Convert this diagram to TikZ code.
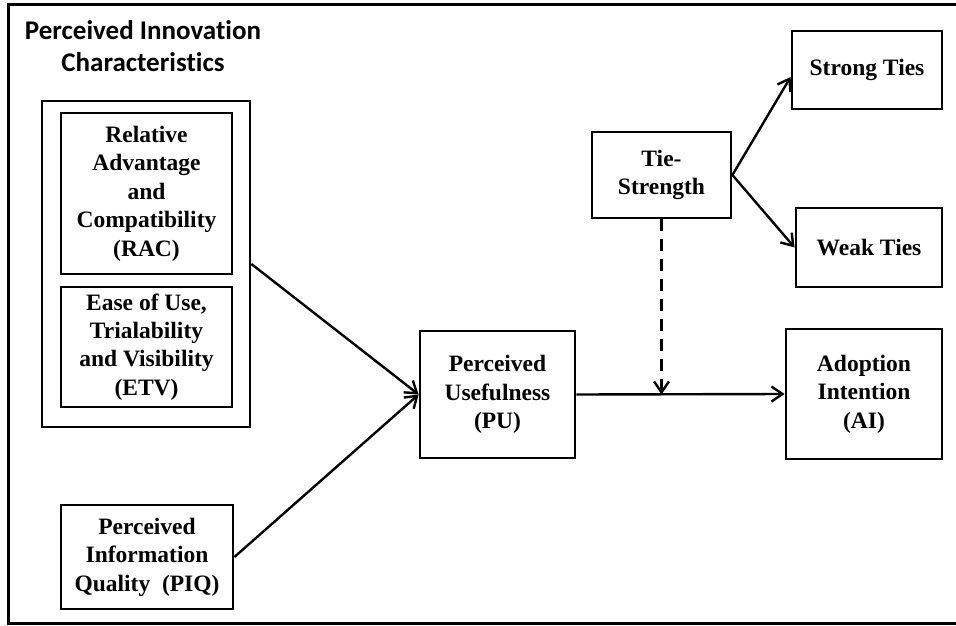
\documentclass[tikz,border=0pt]{standalone}
\usepackage{fontspec}
\setmainfont{Liberation Serif}
\newfontfamily\titlefont[Ligatures=NoCommon]{Carlito}
\usetikzlibrary{arrows.meta}
\begin{document}
\begin{tikzpicture}[x=1pt,y=-1pt,
  box/.style={draw=black, line width=2.8pt, fill=white, inner sep=0pt, align=center,
    font=\bfseries\fontsize{23.5}{28.5}\selectfont},
  conn/.style={line width=2.4pt, -{Straight Barb[length=11pt,width=15pt,line width=2.4pt]}},
  plainline/.style={line width=2.4pt}
]
\useasboundingbox (0,0) rectangle (956,626);
\fill[white] (0,0) rectangle (956,626);
% outer frame
\draw[line width=3pt] (956,5) -- (8,5) -- (8,623) -- (956,623);
% title
\node[font=\titlefont\bfseries\fontsize{27}{32}\selectfont, align=center] (title) at (143,46) {Perceived Innovation\\Characteristics};
% boxes
\node[box, minimum width=208pt, minimum height=326pt] (pic) at (146,264) {};
\node[box, minimum width=171pt, minimum height=161pt] (rac) at (146.5,193.5) {Relative\\Advantage\\and\\Compatibility\\(RAC)};
\node[box, minimum width=171pt, minimum height=120pt] (etv) at (146.5,347) {\raisebox{-3pt}{\begin{tabular}{@{}c@{}}Ease of Use,\\[-0.2pt]Trialability\\and Visibility\\(ETV)\end{tabular}}};
\node[box, minimum width=172pt, minimum height=104pt] (piq) at (147,557) {Perceived\\Information\\Quality~~(PIQ)};
\node[box, minimum width=155pt, minimum height=127pt] (pu) at (497.5,394.5) {Perceived\\Usefulness\\(PU)};
\node[box, minimum width=139pt, minimum height=86pt] (tie) at (661.5,175) {Tie-\\Strength};
\node[box, minimum width=150pt, minimum height=78pt] (strong) at (867,70) {Strong Ties};
\node[box, minimum width=146pt, minimum height=79pt] (weak) at (869,247.5) {Weak Ties};
\node[box, minimum width=156pt, minimum height=130pt] (ai) at (864,394) {Adoption\\Intention\\(AI)};
% connectors
\draw[conn] (pic.east) -- (pu.west);
\draw[conn] (piq.east) -- (pu.west);
\draw[conn] (pu.east) -- (ai.west);
\draw[conn] (tie.east) -- ([yshift=-7pt]strong.west);
\draw[conn] (tie.east) -- (weak.west);
\coordinate (mod) at (tie.south |- pu.east);
\draw[conn, dash pattern=on 12pt off 8pt] (tie.south) -- (mod);
\end{tikzpicture}
\end{document}
